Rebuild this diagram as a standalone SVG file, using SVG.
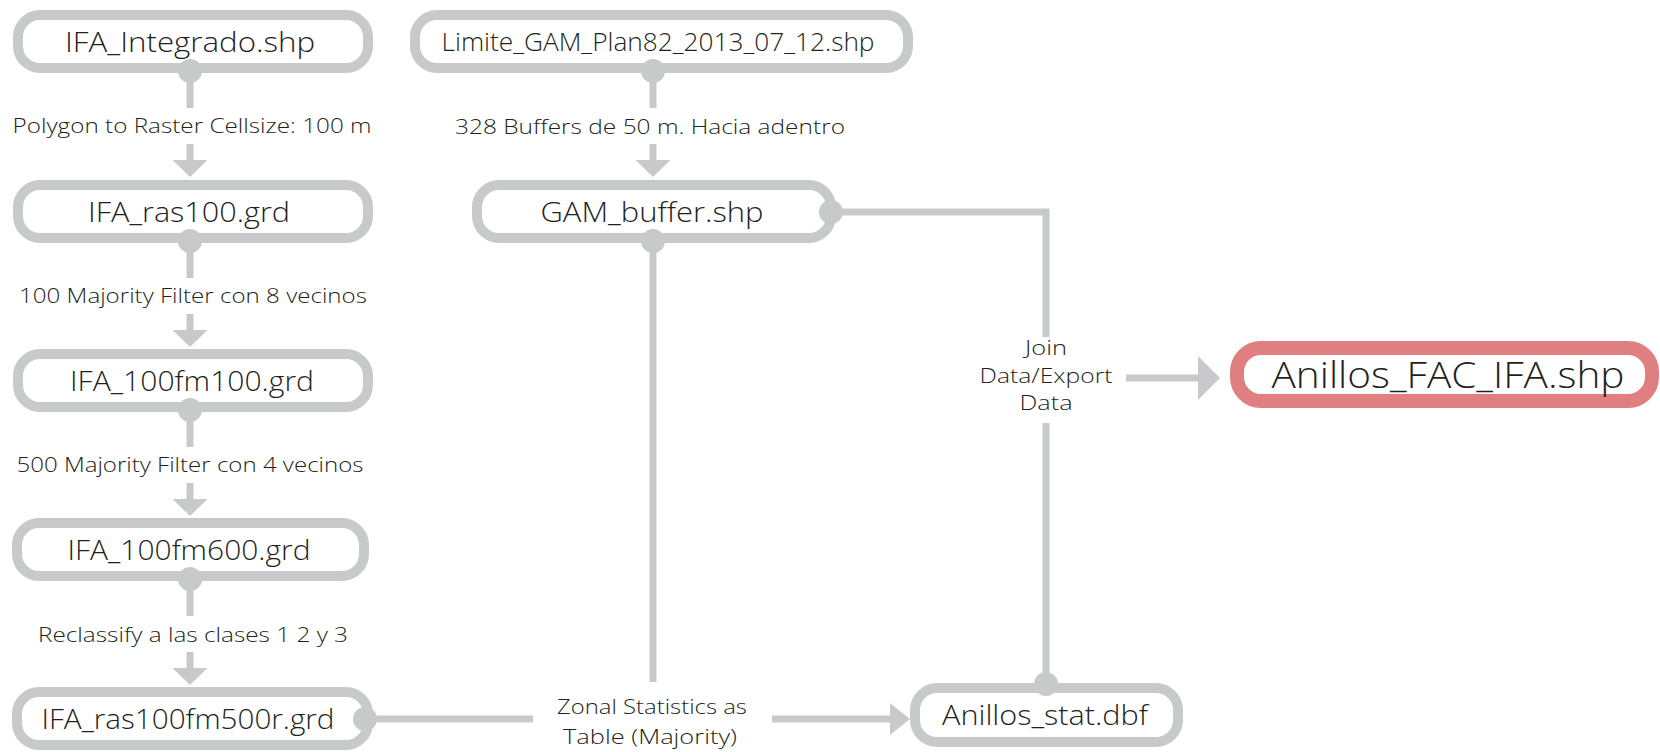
<svg xmlns="http://www.w3.org/2000/svg" width="1660" height="752" viewBox="0 0 1660 752">
<style>
.box{fill:#fff;stroke:#c8c9cb;stroke-width:10}
.hl{fill:#fff;stroke:#df7f80;stroke-width:14}
.t{font-family:"Open Sans","DejaVu Sans",sans-serif;font-weight:300;fill:#231f20;text-anchor:middle}
.n{font-size:27px}
.l{font-size:21px}
.s{font-size:19.5px}
.ln{stroke:#c8c9cb;stroke-width:7;fill:none}
.dot,.ah{fill:#c8c9cb}
</style>
<rect width="1660" height="752" fill="#fff"/>
<g id="n1"><rect class="box" x="18" y="15" width="350" height="53" rx="22"/><text class="t n" x="190" y="51.5" textLength="250" lengthAdjust="spacingAndGlyphs">IFA_Integrado.shp</text></g>
<g id="n2"><rect class="box" x="18" y="185" width="350" height="53" rx="22"/><text class="t n" x="189" y="221.5" textLength="202" lengthAdjust="spacingAndGlyphs">IFA_ras100.grd</text></g>
<g id="n3"><rect class="box" x="18" y="354" width="350" height="53" rx="22"/><text class="t n" x="192" y="390.5" textLength="244" lengthAdjust="spacingAndGlyphs">IFA_100fm100.grd</text></g>
<g id="n4"><rect class="box" x="17" y="523" width="347" height="53" rx="22"/><text class="t n" x="189" y="559.5" textLength="243" lengthAdjust="spacingAndGlyphs">IFA_100fm600.grd</text></g>
<g id="n5"><rect class="box" x="17" y="692" width="351" height="53" rx="22"/><text class="t n" x="188" y="728.5" textLength="293" lengthAdjust="spacingAndGlyphs">IFA_ras100fm500r.grd</text></g>
<g id="n6"><rect class="box" x="415" y="15" width="493" height="53" rx="22"/><text class="t" font-size="25" x="658" y="50.5" textLength="433" lengthAdjust="spacingAndGlyphs">Limite_GAM_Plan82_2013_07_12.shp</text></g>
<g id="n7"><rect class="box" x="477" y="185" width="354" height="53" rx="22"/><text class="t n" x="652" y="221.5" textLength="223" lengthAdjust="spacingAndGlyphs">GAM_buffer.shp</text></g>
<g id="n8"><rect class="box" x="915" y="688" width="263" height="54" rx="22"/><text class="t n" x="1045" y="725" textLength="206" lengthAdjust="spacingAndGlyphs">Anillos_stat.dbf</text></g>
<g id="n9"><rect class="hl" x="1237" y="348" width="415" height="53" rx="24"/><text class="t" font-size="37" x="1448" y="388" textLength="353" lengthAdjust="spacingAndGlyphs">Anillos_FAC_IFA.shp</text></g>
<g id="connectors">
<circle class="dot" cx="190" cy="71" r="12"/><line class="ln" x1="190" y1="71" x2="190" y2="108"/><line class="ln" x1="190" y1="144" x2="190" y2="161"/><polygon class="ah" points="172.5,160 207.5,160 190,177"/>
<circle class="dot" cx="190" cy="241" r="12"/><line class="ln" x1="190" y1="241" x2="190" y2="278"/><line class="ln" x1="190" y1="314" x2="190" y2="331"/><polygon class="ah" points="172.5,330 207.5,330 190,347"/>
<circle class="dot" cx="190" cy="410" r="12"/><line class="ln" x1="190" y1="410" x2="190" y2="447"/><line class="ln" x1="190" y1="483" x2="190" y2="500"/><polygon class="ah" points="172.5,499 207.5,499 190,516"/>
<circle class="dot" cx="190" cy="579" r="12"/><line class="ln" x1="190" y1="579" x2="190" y2="616"/><line class="ln" x1="190" y1="652" x2="190" y2="669"/><polygon class="ah" points="172.5,668 207.5,668 190,685"/>
<text class="t l" x="192" y="133" textLength="359" lengthAdjust="spacingAndGlyphs">Polygon to Raster Cellsize: 100 m</text>
<text class="t l" x="193" y="302.5" textLength="348" lengthAdjust="spacingAndGlyphs">100 Majority Filter con 8 vecinos</text>
<text class="t l" x="190" y="472" textLength="347" lengthAdjust="spacingAndGlyphs">500 Majority Filter con 4 vecinos</text>
<text class="t l" x="193" y="641.5" textLength="310" lengthAdjust="spacingAndGlyphs">Reclassify a las clases 1 2 y 3</text>
<circle class="dot" cx="653" cy="71" r="12"/><line class="ln" x1="653" y1="71" x2="653" y2="108"/><line class="ln" x1="653" y1="144" x2="653" y2="161"/><polygon class="ah" points="635.5,160 670.5,160 653,177"/>
<text class="t l" x="650" y="134" textLength="390" lengthAdjust="spacingAndGlyphs">328 Buffers de 50 m. Hacia adentro</text>
<circle class="dot" cx="653" cy="241" r="12"/><line class="ln" x1="653" y1="241" x2="653" y2="682"/>
<circle class="dot" cx="365" cy="719" r="12"/><line class="ln" x1="365" y1="719" x2="533" y2="719"/>
<line class="ln" x1="772" y1="719" x2="891" y2="719"/><polygon class="ah" points="890,703 890,735 910,719"/>
<text class="t s" x="652" y="714" textLength="190" lengthAdjust="spacingAndGlyphs">Zonal Statistics as</text>
<text class="t s" x="650" y="744" textLength="174" lengthAdjust="spacingAndGlyphs">Table (Majority)</text>
<circle class="dot" cx="831" cy="212" r="12"/><polyline class="ln" points="831,212 1046,212 1046,337"/>
<line class="ln" x1="1046" y1="423" x2="1046" y2="684"/><circle class="dot" cx="1046" cy="684" r="12"/>
<text class="t s" x="1046" y="355" textLength="42" lengthAdjust="spacingAndGlyphs">Join</text>
<text class="t s" x="1046" y="383" textLength="133" lengthAdjust="spacingAndGlyphs">Data/Export</text>
<text class="t s" x="1046" y="410" textLength="53" lengthAdjust="spacingAndGlyphs">Data</text>
<line class="ln" x1="1126" y1="378" x2="1199" y2="378"/><polygon class="ah" points="1198,356 1198,400 1220,378"/>
</g>
</svg>
